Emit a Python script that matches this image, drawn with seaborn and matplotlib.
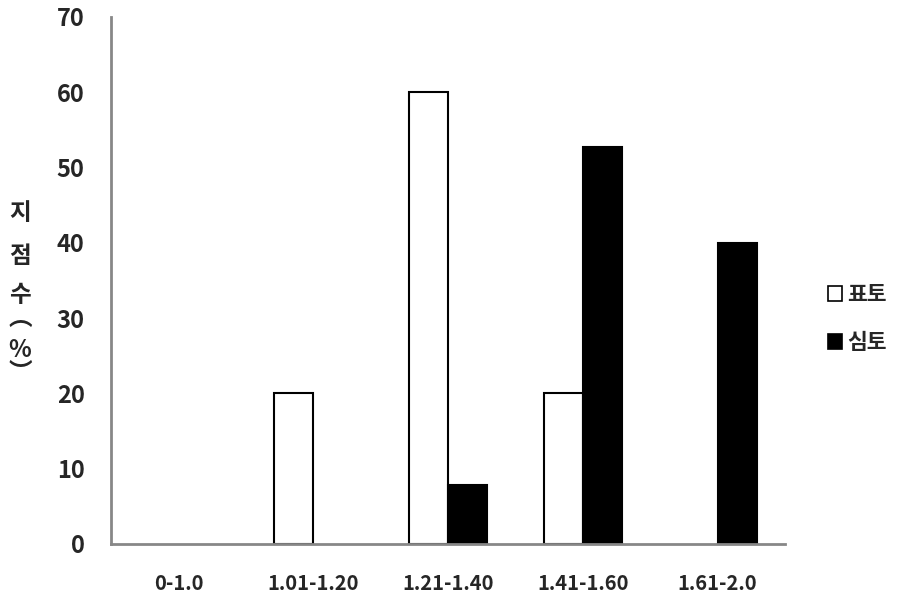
import matplotlib
matplotlib.use("Agg")
import matplotlib.pyplot as plt
import seaborn as sns
import pandas as pd
from matplotlib.patches import Patch

# ========= Data =========
categories = ["0-1.0", "1.01-1.20", "1.21-1.40", "1.41-1.60", "1.61-2.0"]
topsoil = [0, 20, 60, 20, 0]        # 표토
subsoil = [0, 0, 7.8, 52.7, 40]     # 심토
series_names = ["표토", "심토"]
y_ticks = [0, 10, 20, 30, 40, 50, 60, 70]

df = pd.DataFrame({
    "range": categories * 2,
    "value": topsoil + subsoil,
    "layer": [series_names[0]] * len(categories) + [series_names[1]] * len(categories),
})

sns.set_style("white")
plt.rcParams["font.family"] = ["Noto Sans CJK KR", "DejaVu Sans"]
plt.rcParams["font.weight"] = "bold"

axis_gray = "#878787"

fig = plt.figure(figsize=(9.04, 6.07), dpi=100)
ax = fig.add_axes([0.1228, 0.1038, 0.7456, 0.8682])

sns.barplot(data=df, x="range", y="value", hue="layer", order=categories,
            hue_order=series_names, palette={"표토": "white", "심토": "black"},
            edgecolor="black", linewidth=1.5, width=0.58, legend=False, ax=ax)

# hide zero-height bars so their edges don't sit on the axis
for p in ax.patches:
    if p.get_height() == 0:
        p.set_visible(False)

ax.set_ylim(0, 70)
ax.set_xlim(-0.5, len(categories) - 0.5)
ax.set_yticks(y_ticks)
ax.set_yticklabels([str(t) for t in y_ticks], fontsize=17, fontweight="bold")

# category labels centred, tick marks at category borders
ax.set_xticks([i - 0.5 for i in range(len(categories) + 1)])
ax.set_xticklabels([])
ax.set_xticks(range(len(categories)), minor=True)
ax.set_xticklabels(categories, minor=True, fontsize=14.5, fontweight="bold")
ax.tick_params(axis="x", which="minor", length=0, pad=21)
ax.tick_params(axis="x", which="major", direction="out", length=8, width=1.5, color=axis_gray)
ax.tick_params(axis="y", direction="out", length=8, width=1.5, color=axis_gray, pad=11)

ax.set_xlabel("")
ax.set_ylabel("")
for side in ["top", "right"]:
    ax.spines[side].set_visible(False)
for side in ["left", "bottom"]:
    ax.spines[side].set_color(axis_gray)
    ax.spines[side].set_linewidth(2)

# vertical y-axis title
ylab_chars = [("지", 213), ("점", 256), ("수", 295), ("︵", 318), ("%", 350), ("︶", 373)]
for ch, ypix in ylab_chars:
    fig.text(20 / 904, 1 - ypix / 607, ch, ha="center", va="center",
             fontsize=17, fontweight="bold")

# legend
handles = [Patch(facecolor="white", edgecolor="black", linewidth=1.2),
           Patch(facecolor="black", edgecolor="black", linewidth=1.2)]
fig.legend(handles, series_names, loc="center left", bbox_to_anchor=(828 / 904, 0.475),
           frameon=False, borderpad=0, borderaxespad=0, handlelength=0.65, handleheight=0.65,
           handletextpad=0.25, labelspacing=1.25, prop={"weight": "bold", "size": 15.5})

fig.savefig("out.png", dpi=100)
